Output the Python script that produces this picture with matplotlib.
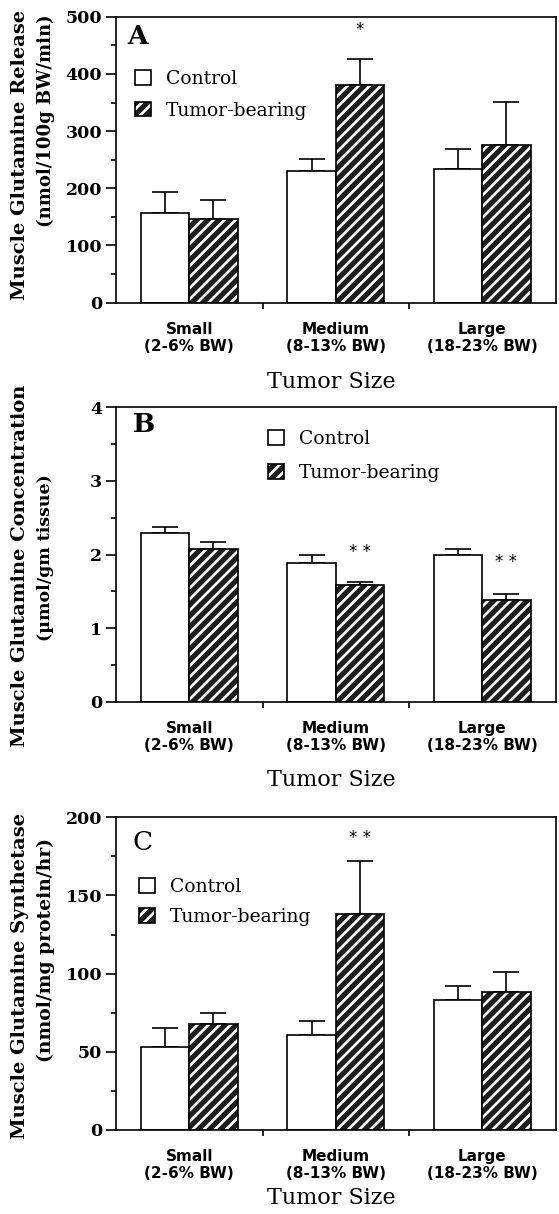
import matplotlib
matplotlib.use("Agg")
import matplotlib.pyplot as plt
from matplotlib.patches import Patch
from matplotlib.legend_handler import HandlerTuple
import numpy as np

# ---------------- data ----------------
categories = ["Small\n(2-6% BW)", "Medium\n(8-13% BW)", "Large\n(18-23% BW)"]
series_names = ["Control", "Tumor-bearing"]

# Panel A: Muscle glutamine release (nmol/100g BW/min)
a_control = [156, 231, 233]
a_control_err = [37, 20, 36]
a_tumor = [147, 380, 275]
a_tumor_err = [32, 46, 76]

# Panel B: Muscle glutamine concentration (umol/gm tissue)
b_control = [2.29, 1.89, 1.99]
b_control_err = [0.09, 0.10, 0.08]
b_tumor = [2.08, 1.59, 1.38]
b_tumor_err = [0.09, 0.04, 0.09]

# Panel C: Muscle glutamine synthetase (nmol/mg protein/hr)
c_control = [53, 61, 83]
c_control_err = [12, 9, 9]
c_tumor = [68, 138, 88]
c_tumor_err = [7, 34, 13]

a_stars = ["", "*", ""]
b_stars = ["", "* *", "* *"]
c_stars = ["", "* *", ""]

a_yticks = [0, 100, 200, 300, 400, 500]
b_yticks = [0, 1, 2, 3, 4]
c_yticks = [0, 50, 100, 150, 200]

# ---------------- layout ----------------
W, H = 559, 1214
DPI = 100
plt.rcParams['hatch.linewidth'] = 1.9
SERIF = ['DejaVu Serif']
SANS = ['DejaVu Sans']

fig = plt.figure(figsize=(W / DPI, H / DPI), dpi=DPI)
fig.patch.set_facecolor('white')

AX_L, AX_R = 116, 555.5


def px_rect(top, bottom):
    return [AX_L / W, 1 - bottom / H, (AX_R - AX_L) / W, (bottom - top) / H]


def fy(py):
    return 1 - py / H


def fx(px):
    return px / W


def panel(top, bottom, control, control_err, tumor, tumor_err, stars,
          yticks, minor_step, letter, letter_bold, letter_pos, leg_pos,
          leg_spacing, ylab1, ylab1_pos, ylab2, ylab2_pos, ylab2_size,
          star_y, xlabel_y):
    ax = fig.add_axes(px_rect(top, bottom))
    x = np.arange(len(categories))
    w = 0.33
    ymax = yticks[-1]
    # control bars
    ax.bar(x - w / 2, control, w, color='white', edgecolor='black',
           linewidth=1.2, zorder=2)
    # tumor bars: dark fill + white hatch, then outline
    ax.bar(x + w / 2, tumor, w, color='#1e1e1e', edgecolor='white',
           hatch='///', linewidth=0, zorder=2)
    ax.bar(x + w / 2, tumor, w, fill=False, edgecolor='black',
           linewidth=1.2, zorder=3)
    # one-sided error bars
    ax.errorbar(x - w / 2, control,
                yerr=[np.zeros(len(control)), control_err], fmt='none',
                ecolor='black', elinewidth=1.2, capsize=9.5, capthick=1.2,
                zorder=1)
    ax.errorbar(x + w / 2, tumor,
                yerr=[np.zeros(len(tumor)), tumor_err], fmt='none',
                ecolor='black', elinewidth=1.2, capsize=9.5, capthick=1.2,
                zorder=1)
    for xi, s in zip(x, stars):
        if s:
            ax.text(xi + w / 2, star_y[xi], s, ha='center', va='center',
                    fontsize=12, family=SANS)

    ax.set_xlim(-0.5, 2.5)
    ax.set_ylim(0, ymax)
    ax.set_yticks(yticks)
    ax.set_yticks(np.arange(0, ymax + 1e-9, minor_step), minor=True)
    ax.set_yticklabels([str(t) for t in yticks], fontsize=12.5,
                       fontweight='bold', family=SERIF)
    ax.set_xticks(x)
    ax.set_xticklabels(categories, fontsize=11, family=SANS,
                       fontweight='semibold', linespacing=1.15)
    ax.set_xticks([0.5, 1.5], minor=True)
    ax.tick_params(axis='x', which='major', length=0, pad=14)
    ax.tick_params(axis='x', which='minor', length=4, width=1.2,
                   direction='out')
    ax.tick_params(axis='y', which='major', length=7, width=1.2,
                   direction='out', pad=3)
    ax.tick_params(axis='y', which='minor', length=3.5, width=1.2,
                   direction='out')
    for sp in ax.spines.values():
        sp.set_linewidth(1.2)

    ax.text(fx(letter_pos[0]), fy(letter_pos[1]), letter,
            transform=fig.transFigure, ha='left', va='center',
            fontsize=19, family=SERIF,
            fontweight='bold' if letter_bold else 'normal')

    handles = [Patch(facecolor='white', edgecolor='black', linewidth=1.2),
               (Patch(facecolor='#1e1e1e', edgecolor='white', hatch='///',
                      linewidth=0),
                Patch(fill=False, edgecolor='black', linewidth=1.2))]
    ax.legend(handles, series_names, loc='upper left',
              bbox_to_anchor=(fx(leg_pos[0]), fy(leg_pos[1])),
              bbox_transform=fig.transFigure, frameon=False,
              prop={'family': SERIF, 'size': 13.5},
              handler_map={tuple: HandlerTuple(ndivide=1, pad=0)},
              handlelength=0.85, handleheight=0.85, handletextpad=0.8,
              labelspacing=leg_spacing, borderpad=0, borderaxespad=0)

    fig.text(fx(ylab1_pos[0]), fy(ylab1_pos[1]), ylab1, rotation=90,
             ha='center', va='center', fontsize=14, fontweight='bold',
             family=SERIF)
    fig.text(fx(ylab2_pos[0]), fy(ylab2_pos[1]), ylab2, rotation=90,
             ha='center', va='center', fontsize=ylab2_size,
             fontweight='bold', family=SERIF)
    fig.text(fx((AX_L + AX_R) / 2 - 4), fy(xlabel_y), "Tumor Size",
             ha='center', va='center', fontsize=16, family=SERIF)
    return ax


panel(16.7, 302.7, a_control, a_control_err, a_tumor, a_tumor_err, a_stars,
      a_yticks, 50, "A", True, (127, 36), (135, 70), 0.72,
      "Muscle Glutamine Release", (20, 155),
      "(nmol/100g BW/min)", (46, 121), 13,
      {1: 477}, 382)

panel(407.3, 701.7, b_control, b_control_err, b_tumor, b_tumor_err, b_stars,
      b_yticks, 0.5, "B", True, (133, 425), (268, 430), 0.85,
      "Muscle Glutamine Concentration", (20, 566),
      "(\u00b5mol/gm tissue)", (46, 558), 12.5,
      {1: 2.04, 2: 1.90}, 780)

panel(817.3, 1130, c_control, c_control_err, c_tumor, c_tumor_err, c_stars,
      c_yticks, 25, "C", False, (133, 843), (139, 878), 0.62,
      "Muscle Glutamine Synthetase", (20, 976),
      "(nmol/mg protein/hr)", (46, 950), 13.5,
      {1: 187}, 1198)

fig.savefig("out.png", dpi=DPI)
